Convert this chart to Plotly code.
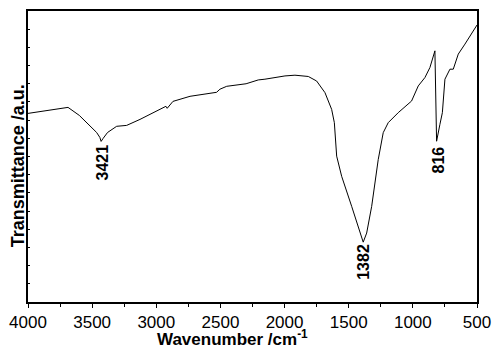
import plotly.graph_objects as go

wavenumber = [4000, 3900, 3800, 3688, 3600, 3520, 3465, 3440, 3430, 3415, 3380, 3309, 3231, 3127,
              3040, 2948, 2925, 2915, 2870, 2737, 2600, 2530, 2504, 2451, 2300, 2205, 2153, 1997,
              1919, 1815, 1750, 1685, 1633, 1612, 1594, 1555, 1477, 1412, 1387, 1360, 1321, 1270,
              1231, 1192, 1114, 1010, 958, 906, 867, 828, 815, 789, 770, 750, 711, 685, 646, 594,
              542, 503, 500]
transmittance = [10.37, 10.48, 10.59, 10.70, 10.26, 9.71, 9.32, 9.05, 8.83, 8.99, 9.32, 9.66, 9.71,
                 10.04, 10.37, 10.70, 10.76, 10.65, 11.03, 11.31, 11.48, 11.53, 11.70, 11.86, 12.0,
                 12.21, 12.25, 12.43, 12.47, 12.40, 12.15, 11.51, 10.59, 9.86, 8.02, 6.91, 5.26,
                 3.79, 3.29, 3.79, 5.26, 7.83, 9.31, 9.86, 10.41, 11.05, 11.88, 12.34, 12.89, 13.81,
                 8.84, 9.77, 10.41, 12.25, 12.80, 12.80, 13.63, 14.18, 14.73, 15.19, 15.23]

peak_labels = ["3421", "1382", "816"]
peak_label_x = [3423, 1381, 797]
peak_label_y = [7.67, 2.21, 7.83]

x_tick_vals = [4000, 3500, 3000, 2500, 2000, 1500, 1000, 500]
x_tick_text = [str(v) for v in x_tick_vals]

FONT = "Liberation Sans, Arial, sans-serif"

fig = go.Figure()
fig.add_trace(go.Scatter(x=wavenumber, y=transmittance, mode="lines",
                         line=dict(color="black", width=1), showlegend=False))

for t, xv, yv in zip(peak_labels, peak_label_x, peak_label_y):
    fig.add_annotation(x=xv, y=yv, text="<b>" + t + "</b>", showarrow=False, textangle=-90,
                       font=dict(family=FONT, size=16, color="black"))

fig.add_annotation(xref="paper", yref="paper", x=-0.022, y=0.467, text="<b>Transmittance /a.u.</b>",
                   showarrow=False, textangle=-90, xanchor="center", yanchor="middle",
                   font=dict(family=FONT, size=18, color="black"))
fig.add_annotation(xref="paper", yref="paper", x=0.455, y=-0.124, text="<b>Wavenumber /cm<sup>-1</sup></b>",
                   showarrow=False, xanchor="center", yanchor="middle",
                   font=dict(family=FONT, size=17, color="black"))

fig.update_layout(
    width=495, height=346,
    margin=dict(l=28, r=18, t=11, b=44, autoexpand=False),
    paper_bgcolor="white", plot_bgcolor="white",
    font=dict(family=FONT, size=17, color="black"),
    xaxis=dict(range=[4000, 500], tickvals=x_tick_vals, ticktext=x_tick_text, automargin=False,
               ticks="outside", ticklen=4, tickwidth=1, tickcolor="black",
               minor=dict(dtick=250, ticks="outside", ticklen=3, tickcolor="black"),
               showline=True, linecolor="black", linewidth=1.5, mirror=True,
               showgrid=False, zeroline=False, tickfont=dict(family=FONT, size=17)),
    yaxis=dict(range=[0, 16], dtick=1, ticks="inside", ticklen=2, tickcolor="black", automargin=False,
               showticklabels=False, showline=True, linecolor="black", linewidth=1.5, mirror=True,
               showgrid=False, zeroline=False),
)

fig.write_html("out.html", config={"displayModeBar": False},
               post_script="document.body.style.margin='0';document.body.style.overflow='hidden';")
